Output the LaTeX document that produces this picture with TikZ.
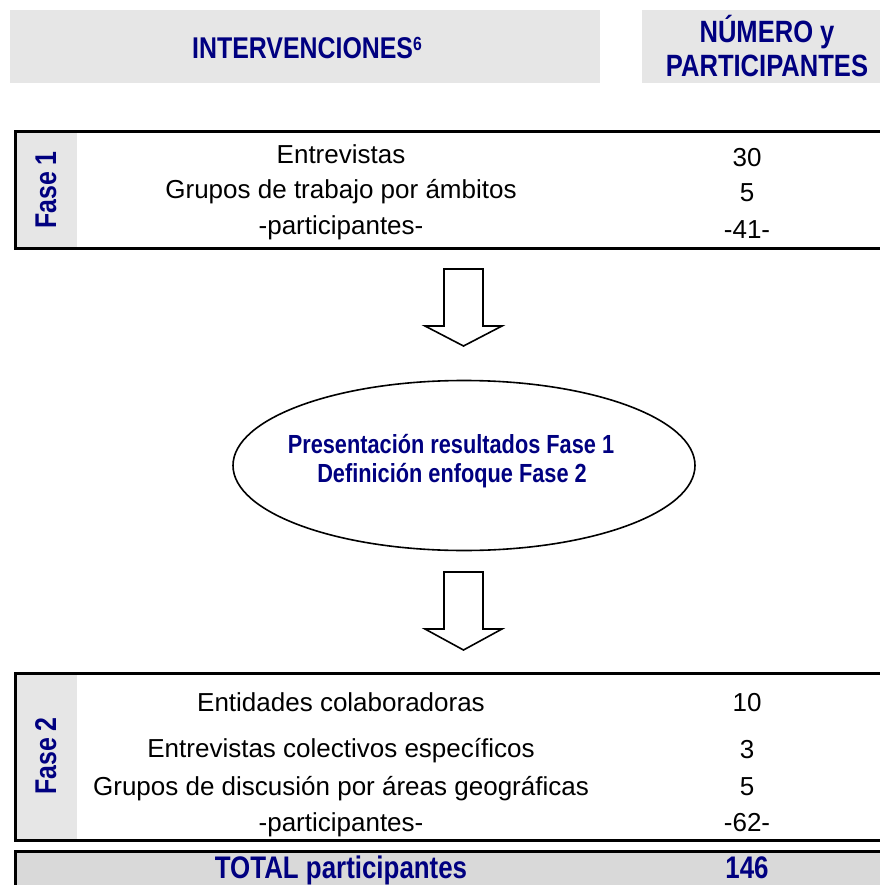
\documentclass[tikz,border=0pt]{standalone}
\usepackage{fontspec}
\setmainfont{Liberation Sans}
\newfontfamily\nb[FakeStretch=0.83]{Liberation Sans}
\definecolor{navy}{HTML}{000080}
\definecolor{hdrgray}{HTML}{E6E6E6}
\definecolor{totgray}{HTML}{D9D9D9}
\begin{document}
\begin{tikzpicture}[x=1pt,y=-1pt,
  body/.style={inner sep=0pt, anchor=base, font=\fontsize{26}{30}\selectfont},
  bhead/.style={inner sep=0pt, anchor=base, text=navy, font=\nb\bfseries\fontsize{#1}{#1}\selectfont},
  fasebox/.style={line width=3pt},
  arrowshape/.style={draw=black, line width=1.6pt, fill=white, line join=miter},
]
\useasboundingbox (0,0) rectangle (879,885);

% header boxes
\fill[hdrgray] (10,10) rectangle (600,83);
\fill[hdrgray] (642,10) rectangle (885,83);
\node[bhead=30] (hint) at (307,59) {INTERVENCIONES\raisebox{8pt}{\fontsize{19}{19}\selectfont 6}};
\node[bhead=30.8] (hnum1) at (767,43) {NÚMERO y};
\node[bhead=30.8] (hnum2) at (767,77) {PARTICIPANTES};

% Fase 1
\fill[hdrgray] (15,132) rectangle (77,248);
\draw[fasebox] (890,132) -- (15,132) -- (15,248) -- (890,248);
\node[bhead=30, rotate=90, anchor=base] (f1) at (56,190) {Fase 1};
\node[body] (e1) at (341,164) {Entrevistas};
\node[body] (e2) at (341,199) {Grupos de trabajo por ámbitos};
\node[body] (e3) at (341,235) {-participantes-};
\node[body] (n1) at (747,167) {30};
\node[body] (n2) at (747,202) {5};
\node[body] (n3) at (747,238) {-41-};

% arrow 1
\coordinate (a1) at (463.5,269);
\draw[arrowshape] (a1) ++(-19.5,0) -- ++(0,57) -- ++(-19,0) -- (463.5,346) -- (502,326) -- ++(-19,0) -- ++(0,-57) -- cycle;

% ellipse
\draw[line width=1.6pt] (464,465.5) ellipse [x radius=231, y radius=85];
\node[bhead=26.2] (el1) at (451,453) {Presentación resultados Fase 1};
\node[bhead=26.2] (el2) at (452,482) {Definición enfoque Fase 2};

% arrow 2
\coordinate (a2) at (463.5,572);
\draw[arrowshape] (a2) ++(-19.5,0) -- ++(0,57) -- ++(-19,0) -- (463.5,650) -- (502,629) -- ++(-19,0) -- ++(0,-57) -- cycle;

% Fase 2
\fill[hdrgray] (15,673) rectangle (77,840);
\draw[fasebox] (890,673) -- (15,673) -- (15,840) -- (890,840);
\node[bhead=30, rotate=90, anchor=base] (f2) at (56,756) {Fase 2};
\node[body] (g1) at (341,711) {Entidades colaboradoras};
\node[body] (g2) at (341,757) {Entrevistas colectivos específicos};
\node[body] (g3) at (341,795) {Grupos de discusión por áreas geográficas};
\node[body] (g4) at (341,831) {-participantes-};
\node[body] (m1) at (747,711) {10};
\node[body] (m2) at (747,758) {3};
\node[body] (m3) at (747,795) {5};
\node[body] (m4) at (747,831) {-62-};

% total
\fill[totgray] (15,851) rectangle (890,895);
\draw[fasebox] (15,895) -- (15,851) -- (890,851);
\node[bhead=31.2] (tot) at (341,878) {TOTAL participantes};
\node[bhead=31.2] (totn) at (747,878) {146};
\end{tikzpicture}
\end{document}
